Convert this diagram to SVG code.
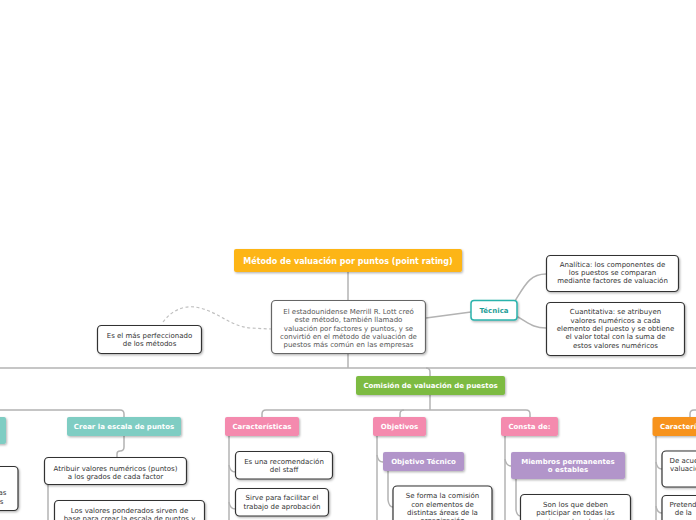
<svg xmlns="http://www.w3.org/2000/svg" width="696" height="520" viewBox="0 0 696 520">
<defs>
<filter id="sh" x="-10%" y="-20%" width="130%" height="160%">
<feDropShadow dx="1" dy="1.2" stdDeviation="0.8" flood-color="#000" flood-opacity="0.3"/>
</filter>
</defs>
<style>
text{font-family:"DejaVu Sans","Verdana",sans-serif;font-size:7px;text-anchor:middle}
.b{font-weight:bold;fill:#fff}
.w{fill:#fff;stroke:#333;stroke-width:1.2}
.t{fill:#333}
.c{fill:none;stroke:#b3b3b3;stroke-width:1.5}
.d{fill:none;stroke:#c0c0c0;stroke-width:1.2;stroke-dasharray:3 2.5}
.teal{fill:#7fcdc3}
.pink{fill:#f48aae}
.purp{fill:#b295ca}
</style>
<rect width="696" height="520" fill="#fff"/>
<g id="connectors">
<path class="c" d="M348,272 V300"/>
<path class="c" d="M348,353 V368"/>
<path class="c" d="M0,368 H696"/>
<path class="c" d="M426,368 Q430,368 430,372 V376"/>
<path class="d" d="M163,322 C172,310 185,304 200,308 C220,313 230,326 250,328 L271,329"/>
<path class="c" d="M426,318 L471,312"/>
<path class="c" d="M515,301 C525,285 530,274 546,274"/>
<path class="c" d="M516,316 C528,322 532,328 546,328"/>
<path class="c" d="M430,395 V410"/>
<path class="c" d="M262,417 V414 Q262,410 266,410 H526 Q530,410 530,414 V417"/>
<path class="c" d="M400,417 V414 Q400,410 404,410"/>
<path class="c" d="M690,417 V414 Q690,410 694,410 H696"/>
<path class="c" d="M0,410 H120 Q124,410 124,414 V417"/>
<path class="c" d="M124,436 V447 Q124,451 120,451 Q117,451 117,454 V457"/>
<path class="c" d="M48,484.5 V520"/>
<path class="c" d="M229,436 V520"/>
<path class="c" d="M229,465 Q230,472 235.5,472"/>
<path class="c" d="M229,502 Q230,509 235.5,509"/>
<path class="c" d="M377,436 V520"/>
<path class="c" d="M377,455 Q378,462 383,462"/>
<path class="c" d="M388,471 V500 Q389,507 393,507"/>
<path class="c" d="M505,436 V520"/>
<path class="c" d="M505,459 Q506,466 511,466"/>
<path class="c" d="M516,479 V510 Q517,516 520.5,516"/>
<path class="c" d="M656,436 V520"/>
<path class="c" d="M656,462 Q657,469 662,469"/>
<path class="c" d="M656,506 Q657,513 662,513"/>
</g>
<g id="title">
<rect x="234" y="249" width="228" height="23" rx="2" fill="#fdb515" filter="url(#sh)"/>
<text class="b" x="348" y="263.6" style="font-size:8px">Método de valuación por puntos (point rating)</text>
</g>
<g id="center">
<rect x="271.5" y="300.5" width="154" height="53" rx="4" fill="#fff" stroke="#666" stroke-width="1.2" filter="url(#sh)"/>
<text x="348.5" y="314" fill="#555">El estadounidense Merrill R. Lott  creó</text>
<text x="348.5" y="322.3" fill="#555">este método, también llamado</text>
<text x="348.5" y="330.5" fill="#555">valuación por factores y puntos, y se</text>
<text x="348.5" y="338.8" fill="#555">convirtió en el método de valuación de</text>
<text x="348.5" y="347" fill="#555">puestos más común en las empresas</text>
</g>
<g id="perfeccionado">
<rect class="w" x="97.5" y="325.5" width="104" height="28" rx="4" filter="url(#sh)"/>
<text class="t" x="149.5" y="338.2">Es el más perfeccionado</text>
<text class="t" x="149.5" y="346.2">de los métodos</text>
</g>
<g id="tecnica">
<rect x="471" y="300.5" width="46" height="19.5" rx="3" fill="#fff" stroke="#2bb3ac" stroke-width="1.5" filter="url(#sh)"/>
<text x="494" y="313.2" style="font-weight:bold;fill:#1e9e98">Técnica</text>
</g>
<g id="analitica">
<rect class="w" x="546.5" y="255.5" width="132" height="36" rx="4" filter="url(#sh)"/>
<text class="t" x="612.5" y="266.8">Analítica: los componentes de</text>
<text class="t" x="612.5" y="275.1">los puestos se comparan</text>
<text class="t" x="612.5" y="283.4">mediante factores de valuación</text>
</g>
<g id="cuantitativa">
<rect class="w" x="546.5" y="302.5" width="138" height="53" rx="4" filter="url(#sh)"/>
<text class="t" x="615.5" y="314.2">Cuantitativa: se atribuyen</text>
<text class="t" x="615.5" y="322.5">valores numéricos  a cada</text>
<text class="t" x="615.5" y="330.8">elemento del puesto y se obtiene</text>
<text class="t" x="615.5" y="339.2">el valor total con la suma de</text>
<text class="t" x="615.5" y="347.5">estos valores numéricos</text>
</g>
<g id="comision">
<rect x="356" y="376" width="149" height="19" rx="2" fill="#7dbb43" filter="url(#sh)"/>
<text class="b" x="430.5" y="388">Comisión de valuación de puestos</text>
</g>
<g id="left-teal">
<rect class="teal" x="-40" y="417" width="46" height="27" rx="2" filter="url(#sh)"/>
</g>
<g id="left-box">
<rect class="w" x="-80" y="466.5" width="98" height="44" rx="4" filter="url(#sh)"/>
<text class="t" x="6.5" y="495.2" style="text-anchor:end">as</text>
<text class="t" x="3.5" y="503.8" style="text-anchor:end">s</text>
</g>
<g id="crear">
<rect class="teal" x="67" y="417" width="114" height="19" rx="2" filter="url(#sh)"/>
<text class="b" x="124" y="428.6">Crear la escala de puntos</text>
</g>
<g id="atribuir">
<rect class="w" x="44.5" y="457.5" width="142" height="27" rx="4" filter="url(#sh)"/>
<text class="t" x="115.5" y="470.5">Atribuir valores numéricos (puntos)</text>
<text class="t" x="115.5" y="478.5">a los grados de cada factor</text>
</g>
<g id="ponderados">
<rect class="w" x="54.5" y="500.5" width="150" height="40" rx="4" filter="url(#sh)"/>
<text class="t" x="129.5" y="512.8">Los valores ponderados sirven de</text>
<text class="t" x="129.5" y="520.8">base para crear la escala de puntos y</text>
</g>
<g id="caracteristicas">
<rect class="pink" x="225" y="417" width="74" height="19" rx="2" filter="url(#sh)"/>
<text class="b" x="262" y="428.6">Características</text>
</g>
<g id="recomendacion">
<rect class="w" x="235.5" y="451.5" width="97" height="27.5" rx="4" filter="url(#sh)"/>
<text class="t" x="284" y="464.2">Es una recomendación</text>
<text class="t" x="284" y="472">del staff</text>
</g>
<g id="facilitar">
<rect class="w" x="235.5" y="488.5" width="93" height="27.5" rx="4" filter="url(#sh)"/>
<text class="t" x="282" y="499.8">Sirve para facilitar el</text>
<text class="t" x="282" y="508.5">trabajo de aprobación</text>
</g>
<g id="objetivos">
<rect class="pink" x="373" y="417" width="53" height="19" rx="2" filter="url(#sh)"/>
<text class="b" x="399.5" y="428.6">Objetivos</text>
</g>
<g id="objetivo-tecnico">
<rect class="purp" x="383" y="452" width="81" height="19" rx="2" filter="url(#sh)"/>
<text class="b" x="423.5" y="464">Objetivo Técnico</text>
</g>
<g id="se-forma">
<rect class="w" x="393" y="486" width="99" height="50" rx="4" filter="url(#sh)"/>
<text class="t" x="442.5" y="498.2">Se forma la comisión</text>
<text class="t" x="442.5" y="506.5">con elementos de</text>
<text class="t" x="442.5" y="514.8">distintas áreas de la</text>
<text class="t" x="442.5" y="523.1">organización</text>
</g>
<g id="consta">
<rect class="pink" x="501" y="417" width="57" height="19" rx="2" filter="url(#sh)"/>
<text class="b" x="529.5" y="428.6">Consta de:</text>
</g>
<g id="miembros">
<rect class="purp" x="511" y="452" width="114" height="27" rx="2" filter="url(#sh)"/>
<text class="b" x="568" y="463.8">Miembros permanentes</text>
<text class="b" x="568" y="471.5">o estables</text>
</g>
<g id="son-los">
<rect class="w" x="520.5" y="494.5" width="110" height="40" rx="4" filter="url(#sh)"/>
<text class="t" x="575.5" y="507.2">Son los que deben</text>
<text class="t" x="575.5" y="515.2">participar en todas las</text>
<text class="t" x="575.5" y="523.5">sesiones de valuación</text>
</g>
<g id="caracteristicas-2">
<rect x="652.5" y="417" width="75" height="19" rx="2" fill="#f7931e" filter="url(#sh)"/>
<text class="b" x="660" y="428.6" style="text-anchor:start">Características</text>
</g>
<g id="de-acuerdo">
<rect class="w" x="662" y="451" width="60" height="36" rx="4" filter="url(#sh)"/>
<text class="t" x="669.5" y="462.5" style="text-anchor:start">De acuerdo con la</text>
<text class="t" x="670" y="471.2" style="text-anchor:start">valuación de</text>
</g>
<g id="pretende">
<rect class="w" x="662" y="495.5" width="60" height="40" rx="4" filter="url(#sh)"/>
<text class="t" x="669.5" y="506.8" style="text-anchor:start">Pretende</text>
<text class="t" x="674.7" y="514.5" style="text-anchor:start">de la</text>
</g>
</svg>
